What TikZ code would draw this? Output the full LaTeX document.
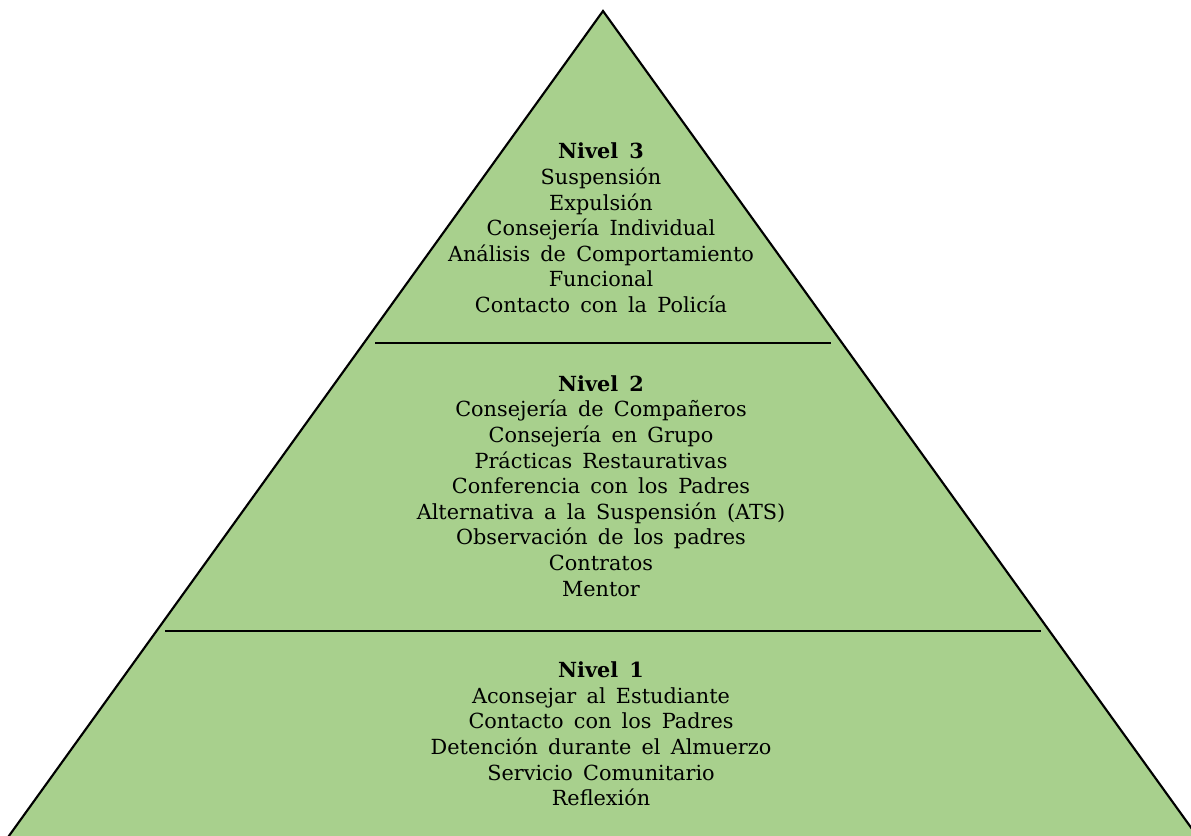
\documentclass[tikz,border=0pt]{standalone}
\usepackage{fontspec}
\setmainfont[WordSpace={1.55,0.5,0.3}]{DejaVu Serif}
\definecolor{pyrgreen}{RGB}{168,208,141}
\tikzset{
  pyramid/.style={fill=pyrgreen, draw=black, line width=1.6pt, line join=miter},
  divider/.style={draw=black, line width=1pt},
  levelbox/.style={align=center, inner sep=0pt, font=\fontsize{15.6}{19.2}\selectfont, text=black}
}
\begin{document}
\begin{tikzpicture}[x=0.75pt,y=-0.75pt]
\useasboundingbox (0,0) rectangle (1191,835);
\begin{scope}
\clip (0,0) rectangle (1191,835);
\coordinate (apex) at (603,11);
\coordinate (bl) at (6,840);
\coordinate (br) at (1200,840);
\path[pyramid] (apex) -- (br) -- (bl) -- cycle;
\end{scope}
\coordinate (d1l) at (375,343);
\coordinate (d1r) at (831,343);
\coordinate (d2l) at (165,631);
\coordinate (d2r) at (1041,631);
\draw[divider] (d1l) -- (d1r);
\draw[divider] (d2l) -- (d2r);
\node[levelbox] (n3) at (601,228) {\textbf{Nivel 3}\\Suspensión\\Expulsión\\Consejería Individual\\Análisis de Comportamiento\\Funcional\\Contacto con la Policía};
\node[levelbox] (n2) at (601,486) {\textbf{Nivel 2}\\Consejería de Compañeros\\Consejería en Grupo\\Prácticas Restaurativas\\Conferencia con los Padres\\Alternativa a la Suspensión (ATS)\\Observación de los padres\\Contratos\\Mentor};
\node[levelbox] (n1) at (601,734) {\textbf{Nivel 1}\\Aconsejar al Estudiante\\Contacto con los Padres\\Detención durante el Almuerzo\\Servicio Comunitario\\Reflexión};
\end{tikzpicture}
\end{document}
